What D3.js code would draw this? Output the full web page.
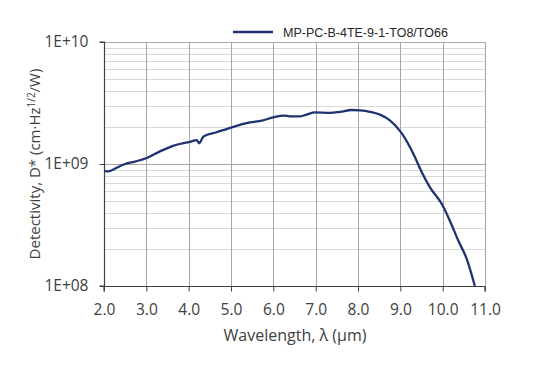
<!DOCTYPE html>
<html>
<head>
<meta charset="utf-8">
<script src="https://cdn.jsdelivr.net/npm/d3@7"></script>
<style>
body{margin:0;background:#fff;}
text{font-family:"Open Sans",sans-serif;}
</style>
</head>
<body>
<script>
// spectral detectivity
var wavelength=[2.02,2.10,2.21,2.35,2.50,2.75,3.01,3.32,3.63,4.03,4.19,4.25,4.35,4.66,5.02,5.45,5.73,6.00,6.24,6.39,6.63,6.79,6.98,7.34,7.58,7.85,8.05,8.28,8.52,8.76,8.99,9.07,9.31,9.51,9.70,9.98,10.17,10.37,10.57,10.76];
var detectivity=[8.8e8,8.7e8,8.98e8,9.5e8,1.0e9,1.05e9,1.12e9,1.27e9,1.41e9,1.52e9,1.57e9,1.48e9,1.68e9,1.82e9,2.0e9,2.19e9,2.27e9,2.41e9,2.49e9,2.46e9,2.46e9,2.54e9,2.65e9,2.62e9,2.68e9,2.77e9,2.75e9,2.68e9,2.54e9,2.27e9,1.87e9,1.71e9,1.21e9,8.53e8,6.43e8,4.70e8,3.43e8,2.35e8,1.66e8,1.0e8];
var xTicks=[2,3,4,5,6,7,8,9,10,11];
var yTicks=[1e8,1e9,1e10];
var seriesName="MP-PC-B-4TE-9-1-TO8/TO66";

var width=554, height=377;
var margin={left:104, right:69, top:42, bottom:91};
var w=width-margin.left-margin.right, h=height-margin.top-margin.bottom;

var x=d3.scaleLinear().domain([2,11]).range([0,w]);
var y=d3.scaleLog().domain([1e8,1e10]).range([h,0]);

var svg=d3.select("body").append("svg").attr("width",width).attr("height",height);
var g=svg.append("g").attr("transform","translate("+margin.left+","+margin.top+")");

// minor horizontal grid
var minor=[];
[1e8,1e9].forEach(function(d){ for(var k=2;k<10;k++) minor.push(d*k); });
g.append("g").selectAll("line").data(minor).enter().append("line")
  .attr("x1",0).attr("x2",w)
  .attr("y1",function(d){return Math.round(y(d))+0.5;})
  .attr("y2",function(d){return Math.round(y(d))+0.5;})
  .attr("stroke","#d9d9d9").attr("stroke-width",1);

// major grid
g.append("g").selectAll("line").data(xTicks.slice(1)).enter().append("line")
  .attr("x1",function(d){return Math.round(x(d))+0.5;})
  .attr("x2",function(d){return Math.round(x(d))+0.5;})
  .attr("y1",0).attr("y2",h)
  .attr("stroke","#a6a6a6").attr("stroke-width",1);
g.append("g").selectAll("line").data([1e9,1e10]).enter().append("line")
  .attr("x1",0).attr("x2",w)
  .attr("y1",function(d){return Math.round(y(d))+0.5;})
  .attr("y2",function(d){return Math.round(y(d))+0.5;})
  .attr("stroke","#a6a6a6").attr("stroke-width",1);

// axes
var yAxis=d3.axisLeft(y).tickValues(yTicks).tickSize(5).tickPadding(11)
  .tickFormat(function(d){return "1E+"+(Math.round(Math.log10(d))<10?"0":"")+Math.round(Math.log10(d));});
var xAxis=d3.axisBottom(x).tickValues(xTicks).tickSize(5).tickPadding(12).tickFormat(d3.format(".1f"));

var ya=g.append("g").attr("transform","translate(0.5,0)").call(yAxis);
var xa=g.append("g").attr("transform","translate(0,"+(h+0.5)+")").call(xAxis);
[ya,xa].forEach(function(a){
  a.select(".domain").attr("stroke","#404040").attr("stroke-width",1.2);
  a.selectAll(".tick line").attr("stroke","#404040");
  a.selectAll(".tick text").attr("fill","#404040").style("font-size","15.5px").style("font-family","'Open Sans',sans-serif");
});
ya.select(".domain").attr("d","M-5,"+h+"H0V0H-5");
xa.select(".domain").attr("d","M0,5V0H"+w+"V5");

// data line
var line=d3.line().x(function(d,i){return x(wavelength[i]);}).y(function(d){return y(d);}).curve(d3.curveMonotoneX);
g.append("path").datum(detectivity)
  .attr("d",line).attr("fill","none")
  .attr("stroke","#1f3370").attr("stroke-width",2.3).attr("stroke-linejoin","round");

// axis titles
svg.append("text")
  .attr("x",295).attr("y",341)
  .attr("text-anchor","middle").attr("fill","#404040").style("font-size","16px")
  .text("Wavelength, λ (µm)");

var yt=svg.append("text")
  .attr("transform","translate(40,"+(margin.top+h/2)+") rotate(-90)")
  .attr("text-anchor","middle").attr("fill","#404040").style("font-size","15px");
yt.append("tspan").text("Detectivity, D* (cm·Hz");
yt.append("tspan").attr("dy",-5).style("font-size","10px").text("1/2");
yt.append("tspan").attr("dy",5).text("/W)");

// legend
svg.append("line").attr("x1",233).attr("x2",273).attr("y1",32).attr("y2",32)
  .attr("stroke","#1f3370").attr("stroke-width",2.3);
svg.append("text").attr("x",283).attr("y",37)
  .style("font-family","'Liberation Sans',Arial,sans-serif").style("font-size","12.5px")
  .attr("fill","#262626").text(seriesName);
</script>
</body>
</html>
